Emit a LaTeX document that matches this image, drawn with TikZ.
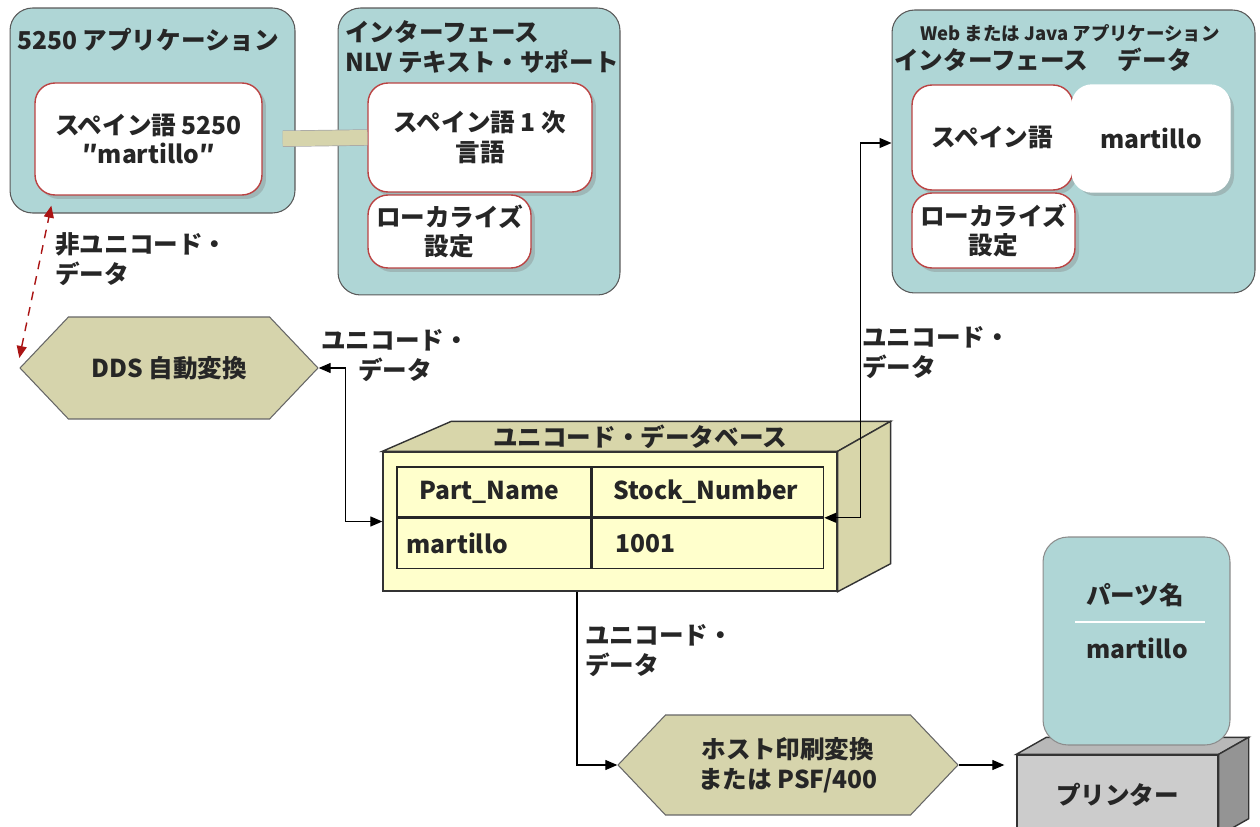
\documentclass[tikz,border=0pt]{standalone}
\usepackage{fontspec}
\setmainfont{Noto Sans CJK JP}
\usetikzlibrary{positioning,shapes.symbols,shadows,calc,arrows.meta}

\definecolor{boxteal}{RGB}{175,214,214}
\definecolor{hexbeige}{RGB}{214,212,172}
\definecolor{dbfront}{RGB}{255,255,204}
\definecolor{dbside}{RGB}{216,214,170}
\definecolor{redline}{RGB}{170,20,20}

\begin{document}
\begin{tikzpicture}[x=0.02cm,y=-0.02cm,
every node/.style={font=\bfseries\fontsize{14}{17}\selectfont, text=black!85},
outerbox/.style={draw=black!65, fill=boxteal, rounded corners=0.45cm, line width=0.6pt},
innerbox/.style={draw=redline!80, fill=white, rounded corners=0.4cm, line width=0.8pt, align=center,
  drop shadow={opacity=0.35, shadow xshift=0.08cm, shadow yshift=-0.08cm}},
hexa/.style={signal, signal to=west and east, signal pointer angle=93, draw=black!60, fill=hexbeige, align=center, line width=0.6pt},
dbbox/.style={draw=black!80, fill=dbfront, line width=0.8pt},
cell/.style={draw=black!85, line width=0.9pt, minimum height=1cm, inner sep=0pt},
celltext/.style={inner sep=0pt, anchor=west},
prnbox/.style={draw=black!80, fill=black!20, line width=0.8pt},
link/.style={draw=black, line width=0.7pt, {Triangle[length=0.24cm,width=0.2cm]}-{Triangle[length=0.24cm,width=0.2cm]}},
onelink/.style={draw=black, line width=0.7pt, -{Triangle[length=0.24cm,width=0.2cm]}},
redlink/.style={draw=redline, line width=0.8pt, dash pattern=on 5pt off 4pt, {Triangle[length=0.24cm,width=0.2cm]}-{Triangle[length=0.24cm,width=0.2cm]}},
bar/.style={draw=black!35, line width=0.4pt, double=hexbeige, double distance=0.3cm},
]
\useasboundingbox (0,0) rectangle (1260,827);

% 5250 application
\node[outerbox, minimum width=5.7cm, minimum height=4.1cm] (app) at (152.5,110.5) {};
\node (apptitle) at (148,40) {5250 アプリケーション};
\node[innerbox, minimum width=4.54cm, minimum height=2.24cm] (sp5250) at (148.5,139) {スペイン語 5250\\″martillo″};

% NLV interface
\node[outerbox, minimum width=5.64cm, minimum height=5.74cm] (nlv) at (479,151.5) {};
\node[anchor=north west, align=left, inner sep=0pt] (nlvtitle) at (345,20) {インターフェース\\NLV テキスト・サポート};
\node[innerbox, minimum width=4.48cm, minimum height=2.18cm] (sp1) at (480,137.5) {スペイン語 1 次\\言語};
\node[innerbox, minimum width=3.26cm, minimum height=1.46cm] (loc1) at (449.5,231.5) {ローカライズ\\設定};

% web / java application
\node[outerbox, minimum width=7.26cm, minimum height=5.66cm] (web) at (1073.5,151.5) {};
\node[font=\bfseries\fontsize{10.5}{12}\selectfont] (webtitle) at (1070,33) {Web または Java アプリケーション};
\node (webhead) at (1043,60) {インターフェース\hspace{1.2em}データ};
\node[innerbox, minimum width=3.22cm, minimum height=2.1cm] (sp2) at (992.5,137.5) {スペイン語};
\node[innerbox, draw=white, minimum width=3.16cm, minimum height=2.14cm] (data) at (1151,138.5) {martillo};
\node[innerbox, minimum width=3.26cm, minimum height=1.5cm] (loc2) at (993.5,230.5) {ローカライズ\\設定};

% conversions
\node[hexa, minimum width=5.96cm, minimum height=2.04cm] (dds) at (169,368) {DDS 自動変換};
\node[hexa, minimum width=6.8cm, minimum height=2cm] (host) at (788,765) {ホスト印刷変換\\または PSF/400};

% database
\node[dbbox, minimum width=9.08cm, minimum height=2.78cm] (db) at (610,521.5) {};
\draw[dbbox, fill=dbside] (db.north west) -- ++(69,-30) -- ($(db.north east)+(53,-30)$) -- (db.north east) -- cycle;
\draw[dbbox, fill=dbside] (db.north east) -- ++(53,-30) -- ($(db.south east)+(53,-28)$) -- (db.south east) -- cycle;
\node (dbtitle) at (640,437) {ユニコード・データベース};
\node[cell, minimum width=3.88cm] (c11) at (494,492) {};
\node[cell, minimum width=4.62cm, right=0pt of c11] (c12) {};
\node[cell, minimum width=3.88cm, below=0pt of c11] (c21) {};
\node[cell, minimum width=4.62cm, below=0pt of c12] (c22) {};
\node[celltext, right=0.46cm of c11.west] (t11) {Part\_Name};
\node[celltext, right=0.42cm of c12.west] (t12) {Stock\_Number};
\node[celltext, right=0.2cm of c21.west] (t21) {martillo};
\node[celltext, right=0.46cm of c22.west] (t22) {1001};

% printer
\node[prnbox, minimum width=4.02cm, minimum height=1.6cm] (prn) at (1117.5,795) {プリンター};
\draw[prnbox, fill=black!28] (prn.north west) -- ++(30,-17) -- ($(prn.north east)+(30,-17)$) -- (prn.north east) -- cycle;
\draw[prnbox, fill=black!42] (prn.north east) -- ++(30,-17) -- ($(prn.south east)+(30,-17)$) -- (prn.south east) -- cycle;
\node[outerbox, draw=black!45, rounded corners=0.5cm, minimum width=3.74cm, minimum height=4.16cm] (paper) at (1136.5,641) {};
\node (pname) at (1135,595) {パーツ名};
\draw[white, line width=1.5pt] (1075,622) -- (1205,622);
\node (pval) at (1137,648) {martillo};

% connectors
\draw[bar, shorten <=0.4cm] (sp5250.east) -- (sp1.west);
\draw[redlink] ([yshift=0.2cm]dds.west) -- ([xshift=0.34cm,yshift=-0.2cm]sp5250.south west);
\draw[link] (dds.east) -- ++(27,0) |- (db.west);
\draw[link] (c12.south east) -- ++(36,0) |- ([yshift=0.17cm]web.west);
\draw[onelink] ([xshift=-0.66cm]db.south) |- (host.west);
\draw[onelink, shorten >=0.24cm] (host.east) -- (host.east -| prn.west);

% labels
\node[anchor=north west, align=left, inner sep=0pt] (nonuni) at (55,232) {非ユニコード・\\データ};
\node[align=center] (uni1) at (395,356) {ユニコード・\\データ};
\node[anchor=north west, align=left, inner sep=0pt] (uni2) at (862,326) {ユニコード・\\データ};
\node[anchor=north west, align=left, inner sep=0pt] (uni3) at (585,624) {ユニコード・\\データ};
\end{tikzpicture}
\end{document}
